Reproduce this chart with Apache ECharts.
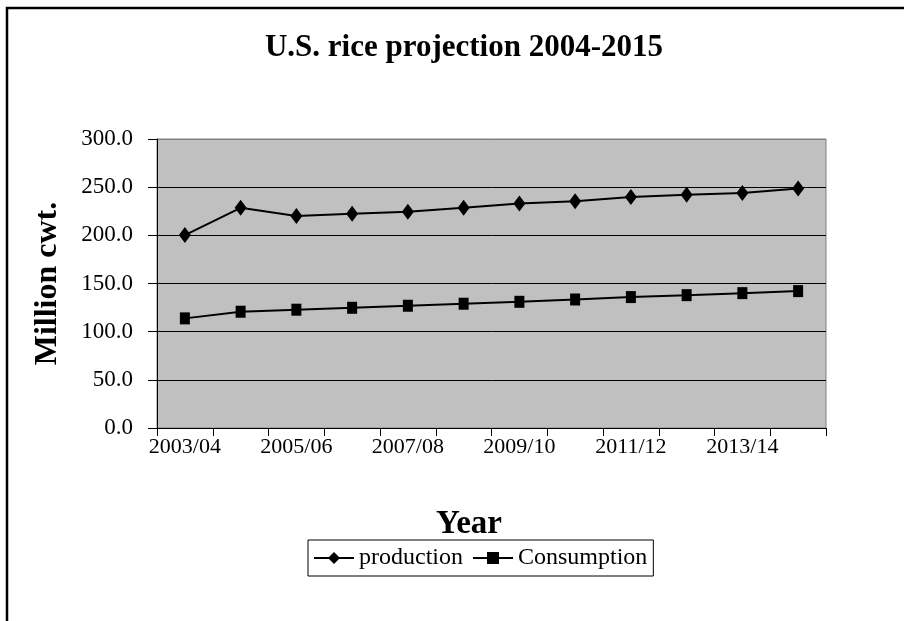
<!DOCTYPE html>
<html>
<head>
<meta charset="utf-8">
<script src="https://cdn.jsdelivr.net/npm/echarts@6/dist/echarts.min.js"></script>
<style>
  html, body { margin: 0; padding: 0; background: #ffffff; }
  #chart { width: 904px; height: 621px; }
</style>
</head>
<body>
<div id="chart"></div>
<script>
// values
const years = ["2003/04", "2004/05", "2005/06", "2006/07", "2007/08", "2008/09",
  "2009/10", "2010/11", "2011/12", "2012/13", "2013/14", "2014/15"];
const production = [200.3, 228.6, 220.0, 222.4, 224.5, 228.6, 233.1, 235.4, 239.9, 242.0, 244.0, 248.5];
const consumption = [113.8, 120.7, 122.8, 124.8, 126.9, 129.0, 131.0, 133.4, 135.9, 137.9, 140.0, 142.1];

const serif = "'Liberation Serif', 'Times New Roman', serif";

const chart = echarts.init(document.getElementById("chart"), null, { renderer: "canvas" });

chart.setOption({
  backgroundColor: "#ffffff",
  animation: false,
  title: [
    {
      text: "U.S. rice projection 2004-2015",
      left: 459,
      textAlign: "center",
      top: 27,
      textStyle: { fontFamily: serif, fontSize: 31, fontWeight: "bold", color: "#000" },
    },
    {
      // x axis title sits left of the plot centre in the original
      text: "Year",
      left: 464,
      textAlign: "center",
      top: 503,
      textStyle: { fontFamily: serif, fontSize: 33, fontWeight: "bold", color: "#000" },
    },
  ],
  graphic: [
    {
      // outer frame, runs off the right and bottom edges
      type: "rect",
      shape: { x: 7, y: 8, width: 1200, height: 1000 },
      style: { fill: "none", stroke: "#000", lineWidth: 2.5 },
      silent: true,
    },
  ],
  legend: {
    left: 308,
    top: 540,
    padding: [6, 6, 6, 5],
    itemGap: 9,
    itemWidth: 40,
    itemHeight: 15,
    borderColor: "#000",
    borderWidth: 1,
    textStyle: { fontFamily: serif, fontSize: 24, color: "#000" },
  },
  grid: {
    left: 157,
    right: 78,
    top: 139,
    bottom: 193,
    show: true,
    backgroundColor: "#c0c0c0",
    borderColor: "#808080",
    borderWidth: 1,
  },
  xAxis: {
    type: "category",
    data: years,
    boundaryGap: true,
    axisLine: { lineStyle: { color: "#000", width: 1 } },
    axisTick: { show: true, interval: 0, length: 8, lineStyle: { color: "#000" } },
    axisLabel: {
      interval: 1,
      margin: 8,
      fontFamily: serif,
      fontSize: 22,
      color: "#000",
    },
    splitLine: { show: false },
  },
  yAxis: {
    type: "value",
    min: 0,
    max: 300,
    interval: 50,
    name: "Million cwt.",
    nameLocation: "middle",
    nameGap: 93,
    nameRotate: 90,
    nameTextStyle: { fontFamily: serif, fontSize: 32, fontWeight: "bold", color: "#000" },
    axisLine: { show: true, lineStyle: { color: "#000", width: 1 } },
    axisTick: { show: true, length: 9, lineStyle: { color: "#000" } },
    axisLabel: {
      margin: 24,
      fontFamily: serif,
      fontSize: 23,
      color: "#000",
      formatter: (v) => v.toFixed(1),
    },
    // the top line is the grey plot border, not a black gridline
    splitLine: {
      show: true,
      lineStyle: { color: ["#000", "#000", "#000", "#000", "#000", "#000", "#808080"], width: 1 },
    },
  },
  series: [
    {
      name: "production",
      type: "line",
      data: production,
      symbol: "diamond",
      symbolSize: [12, 16],
      lineStyle: { color: "#000", width: 2 },
      itemStyle: { color: "#000" },
    },
    {
      name: "Consumption",
      type: "line",
      data: consumption,
      symbol: "rect",
      symbolSize: [10, 12],
      lineStyle: { color: "#000", width: 2 },
      itemStyle: { color: "#000" },
    },
  ],
});
</script>
</body>
</html>
